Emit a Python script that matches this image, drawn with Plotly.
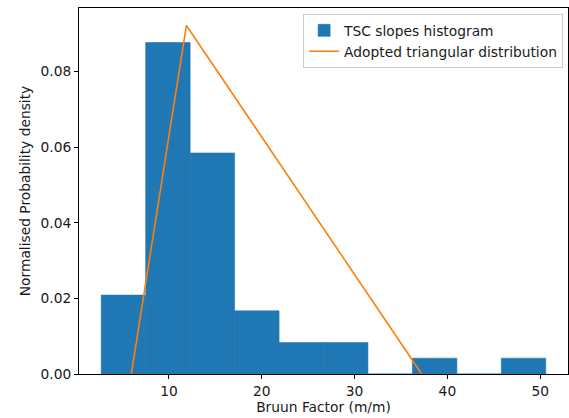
import numpy as np
import plotly.graph_objects as go

# Histogram of TSC slopes: bin edges and counts per bin
bin_edges = [2.70, 7.49, 12.28, 17.07, 21.86, 26.65, 31.44, 36.23, 41.02, 45.81, 50.60]
bin_counts = [5, 21, 14, 4, 2, 2, 0, 1, 0, 1]

# Adopted triangular distribution: (lower, mode, upper) and peak density
tri_x = [5.94, 11.88, 37.23]
tri_y = [0.0, 0.0922, 0.0]

x_ticks = [10, 20, 30, 40, 50]
y_ticks = [0.00, 0.02, 0.04, 0.06, 0.08]

edges = np.array(bin_edges)
counts = np.array(bin_counts, dtype=float)
widths = np.diff(edges)
centers = edges[:-1] + widths / 2
density = counts / (counts.sum() * widths)

font = "DejaVu Sans, Liberation Sans, sans-serif"
fsize = 13.8
txt = "#1a1a1a"

fig = go.Figure()
fig.add_trace(go.Bar(
    x=centers, y=density, width=widths,
    marker=dict(color="#1f77b4", line=dict(width=0.6, color="#1f77b4")),
    name="TSC slopes histogram",
))
fig.add_trace(go.Scatter(
    x=tri_x, y=tri_y, mode="lines",
    line=dict(color="#ff7f0e", width=1.6),
    name="Adopted triangular distribution",
))

span = edges[-1] - edges[0]
ymax = max(density.max(), max(tri_y)) * 1.05

axis_common = dict(
    showgrid=False, zeroline=False,
    showline=True, linecolor="#000000", linewidth=1, mirror=True,
    ticks="outside", ticklen=4, tickwidth=1, tickcolor="#000000",
    tickfont=dict(family=font, size=fsize, color=txt),
)

fig.update_layout(
    width=569, height=418,
    margin=dict(l=79, r=1, t=8, b=44),
    paper_bgcolor="white", plot_bgcolor="white",
    font=dict(family=font, size=fsize, color=txt),
    showlegend=True,
    legend=dict(
        x=0.990, y=0.984, xanchor="right", yanchor="top",
        bgcolor="rgba(255,255,255,0.85)", bordercolor="#cccccc", borderwidth=1,
        font=dict(family=font, size=fsize, color=txt),
        tracegroupgap=0, itemwidth=30,
    ),
    xaxis=dict(
        range=[edges[0] - 0.05 * span, edges[-1] + 0.05 * span],
        tickvals=x_ticks,
        title=dict(text="Bruun Factor (m/m)", standoff=4,
                   font=dict(family=font, size=fsize, color=txt)),
        **axis_common,
    ),
    yaxis=dict(
        range=[0, ymax],
        tickvals=y_ticks, tickformat=".2f",
        title=dict(text="Normalised Probability density", standoff=6,
                   font=dict(family=font, size=fsize, color=txt)),
        **axis_common,
    ),
)

fig.write_html("out.html")
